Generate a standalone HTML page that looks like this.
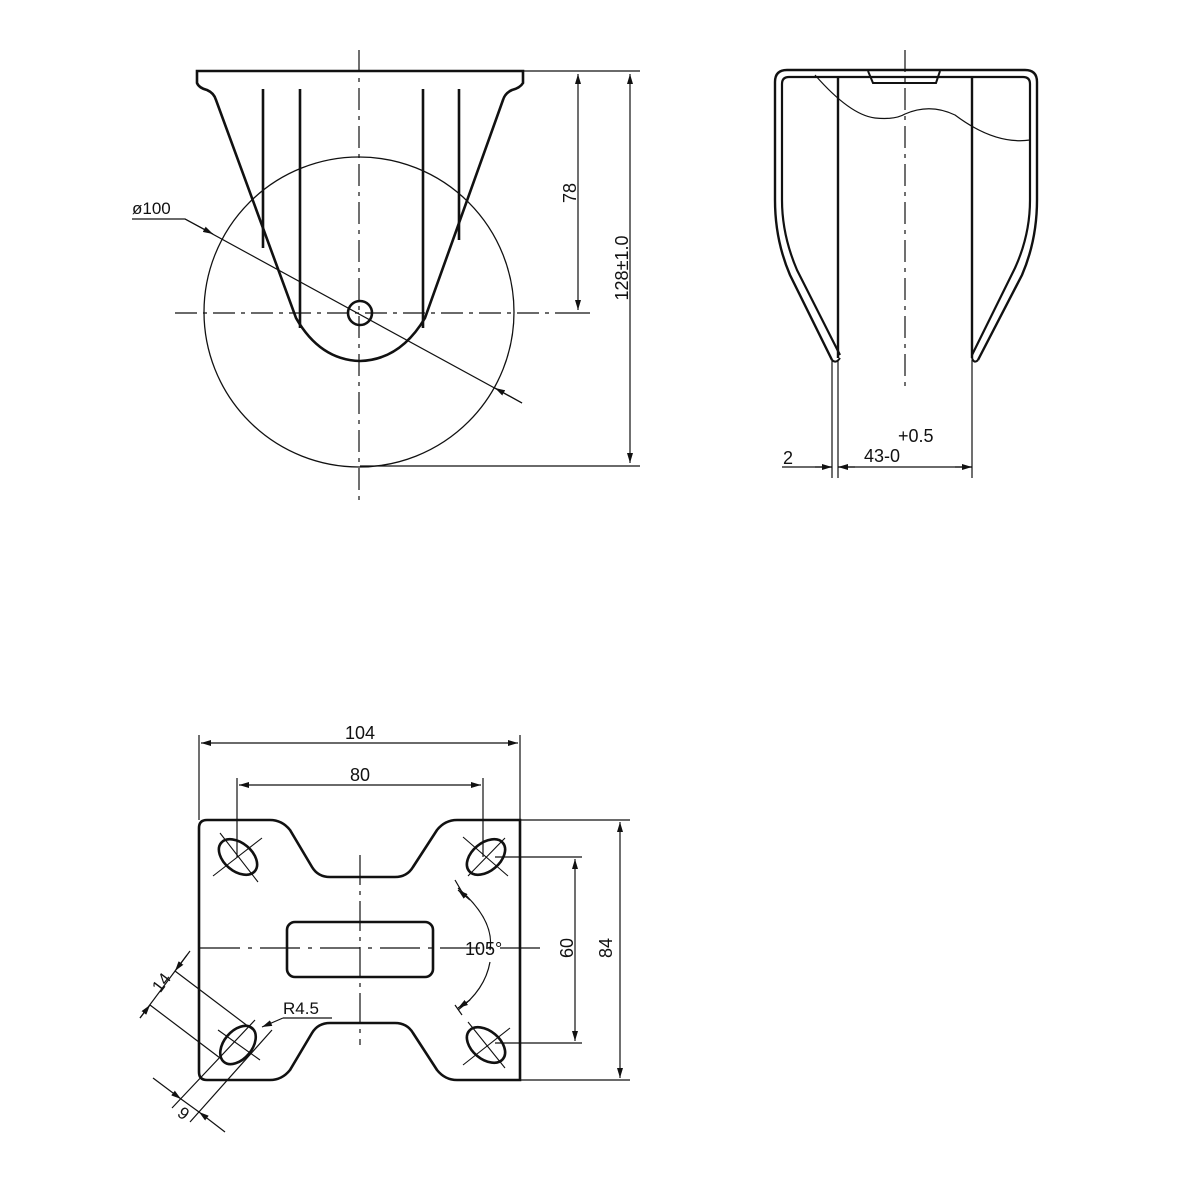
<!DOCTYPE html>
<html><head><style>
html,body{margin:0;padding:0;background:#fff;}
svg{display:block;}
text{font-family:"Liberation Sans",sans-serif;fill:#111;}
</style></head><body>
<svg width="1200" height="1200" viewBox="0 0 1200 1200" xmlns="http://www.w3.org/2000/svg">
<defs>
<marker id="a" viewBox="0 0 10 6" refX="10" refY="3" markerWidth="10" markerHeight="6" orient="auto-start-reverse" markerUnits="userSpaceOnUse"><path d="M0,0 L10,3 L0,6 z" fill="#111"/></marker>
</defs>
<g fill="none" stroke="#111">
<!-- FRONT VIEW -->
<circle cx="359" cy="312" r="155" stroke-width="1.3"/>
<path d="M197,71 L523,71 L523,83 Q520,88 512,90 Q505,93 503,100 L425,318 Q400,360 360,361 Q320,360 296,318 L216,100 Q214,93 207,90 Q199,88 197,83 Z" stroke-width="2.6"/>
<path d="M263,89 V248 M300,89 V328 M423,89 V328 M459,89 V240" stroke-width="2.6"/>
<circle cx="360" cy="313" r="12" stroke-width="2.6"/>
<path d="M175,313 H555" stroke-width="1.2" stroke-dasharray="22,6,4,6"/>
<path d="M359,50 V500" stroke-width="1.2" stroke-dasharray="22,6,4,6"/>
<path d="M555,313 H590 M523,71 H640 M360,466 H640" stroke-width="1.2"/>
<path d="M578,74 V310" stroke-width="1.2" marker-start="url(#a)" marker-end="url(#a)"/>
<path d="M630,74 V463" stroke-width="1.2" marker-start="url(#a)" marker-end="url(#a)"/>
<path d="M132,219 H185 L522,403" stroke-width="1.2"/>
<path d="M185,219 L213,234" stroke-width="1.2" marker-end="url(#a)"/>
<path d="M522,403 L495,388" stroke-width="1.2" marker-end="url(#a)"/>

<!-- SIDE VIEW -->
<path d="M832,360 L790,275 Q775,240 775,200 L775,82 Q775,70 787,70 H1025 Q1037,70 1037,82 V200 Q1037,240 1022,275 L978,360" stroke-width="2.4"/>
<path d="M840,355 L797,270 Q782,235 782,200 V84 Q782,77 789,77 H1023 Q1030,77 1030,84 V200 Q1030,235 1015,268 L972,355" stroke-width="2.2"/>
<path d="M832,360 Q836,364 840,358 M978,360 Q974,364 972,358" stroke-width="2"/>
<path d="M838,78 V358 M972,78 V358" stroke-width="2.4"/>
<path d="M868,71 L873,83 L936,83 L940,71" stroke-width="2"/>
<path d="M815,75 Q850,115 875,118 Q895,120 905,114 Q930,103 955,115 Q995,145 1030,140" stroke-width="1.2"/>
<path d="M905,50 V390" stroke-width="1.2" stroke-dasharray="22,6,4,6"/>
<path d="M832,360 V478 M838,360 V478 M972,360 V478" stroke-width="1.2"/>
<path d="M782,467 H832 M838,467 H972" stroke-width="1.2"/>
<path d="M815,467 L832,467" stroke-width="1.2" marker-end="url(#a)"/>
<path d="M855,467 L838,467" stroke-width="1.2" marker-end="url(#a)"/>
<path d="M955,467 L972,467" stroke-width="1.2" marker-end="url(#a)"/>

<!-- BOTTOM VIEW -->
<path d="M207,820 L270,820 Q282,820 290,830 L312,867 Q318,877 330,877 L395,877 Q407,877 413,867 L437,830 Q445,820 457,820 L520,820 L520,1080 L457,1080 Q445,1080 437,1070 L413,1033 Q407,1023 395,1023 L330,1023 Q318,1023 312,1033 L290,1070 Q282,1080 270,1080 L207,1080 Q199,1080 199,1072 L199,828 Q199,820 207,820 Z" stroke-width="2.6"/>
<rect x="287" y="922" width="146" height="55" rx="8" stroke-width="2.6"/>
<g stroke-width="2.6">
<ellipse cx="238" cy="857" rx="22" ry="14" transform="rotate(40 238 857)"/>
<ellipse cx="486" cy="857" rx="22" ry="14" transform="rotate(-40 486 857)"/>
<ellipse cx="238" cy="1045" rx="22" ry="14" transform="rotate(-50 238 1045)"/>
<ellipse cx="486" cy="1045" rx="22" ry="14" transform="rotate(40 486 1045)"/>
</g>
<g stroke-width="1.1">
<path d="M220,833 L258,882 M213,876 L262,838 M468,876 L505,838 M463,837 L508,876"/>
<path d="M218,1030 L260,1060 M468,1022 L505,1068 M463,1065 L510,1028"/>
</g>
<path d="M200,948 H540" stroke-width="1.2" stroke-dasharray="40,8,4,8"/>
<path d="M360,855 V1045" stroke-width="1.2" stroke-dasharray="30,6,4,6"/>
<path d="M199,735 V820 M520,735 V820 M237,778 V857 M483,778 V857" stroke-width="1.2"/>
<path d="M201,743 H518" stroke-width="1.2" marker-start="url(#a)" marker-end="url(#a)"/>
<path d="M239,785 H481" stroke-width="1.2" marker-start="url(#a)" marker-end="url(#a)"/>
<path d="M520,820 H630 M520,1080 H630 M495,857 H582 M495,1043 H582" stroke-width="1.2"/>
<path d="M620,822 V1078" stroke-width="1.2" marker-start="url(#a)" marker-end="url(#a)"/>
<path d="M575,859 V1041" stroke-width="1.2" marker-start="url(#a)" marker-end="url(#a)"/>
<path d="M458,888 Q495,920 490,950 M490,962 Q485,990 458,1010" stroke-width="1.2"/>
<path d="M470,900 L458,890" stroke-width="1.2" marker-end="url(#a)"/>
<path d="M470,1000 L458,1008" stroke-width="1.2" marker-end="url(#a)"/>
<path d="M455,880 L462,892 M455,1005 L462,1015" stroke-width="1.2"/>
<path d="M283,1018 H332" stroke-width="1.2"/>
<path d="M283,1018 L262,1027" stroke-width="1.2" marker-end="url(#a)"/>
<!-- 14 dim -->
<path d="M175,971 L253,1030 M150,1005 L220,1058" stroke-width="1.2"/>
<path d="M190,951 L140,1018" stroke-width="1.2"/>
<path d="M187,955 L175,971" stroke-width="1.2" marker-end="url(#a)"/>
<path d="M140,1018 L150,1005" stroke-width="1.2" marker-end="url(#a)"/>
<!-- 9 dim -->
<path d="M255,1020 L172,1108 M272,1030 L190,1122" stroke-width="1.2"/>
<path d="M153,1078 L181,1099" stroke-width="1.2" marker-end="url(#a)"/>
<path d="M225,1132 L199,1112" stroke-width="1.2" marker-end="url(#a)"/>
<path d="M181,1099 L199,1112" stroke-width="1.2"/>
</g>
<!-- texts -->
<text x="132" y="214" font-size="17">ø100</text>
<text transform="translate(576,193) rotate(-90)" font-size="18" text-anchor="middle">78</text>
<text transform="translate(628,268) rotate(-90)" font-size="18" text-anchor="middle">128±1.0</text>
<text x="783" y="464" font-size="18">2</text>
<text x="864" y="462" font-size="18">43-0</text>
<text x="898" y="442" font-size="18">+0.5</text>
<text x="360" y="739" font-size="18" text-anchor="middle">104</text>
<text x="360" y="781" font-size="18" text-anchor="middle">80</text>
<text x="465" y="955" font-size="18">105°</text>
<text transform="translate(573,948) rotate(-90)" font-size="18" text-anchor="middle">60</text>
<text transform="translate(612,948) rotate(-90)" font-size="18" text-anchor="middle">84</text>
<text x="283" y="1014" font-size="17">R4.5</text>
<text transform="translate(166,986) rotate(-53)" font-size="17" text-anchor="middle">14</text>
<text transform="translate(180,1118) rotate(37)" font-size="17" text-anchor="middle">9</text>
</svg>
</body></html>
